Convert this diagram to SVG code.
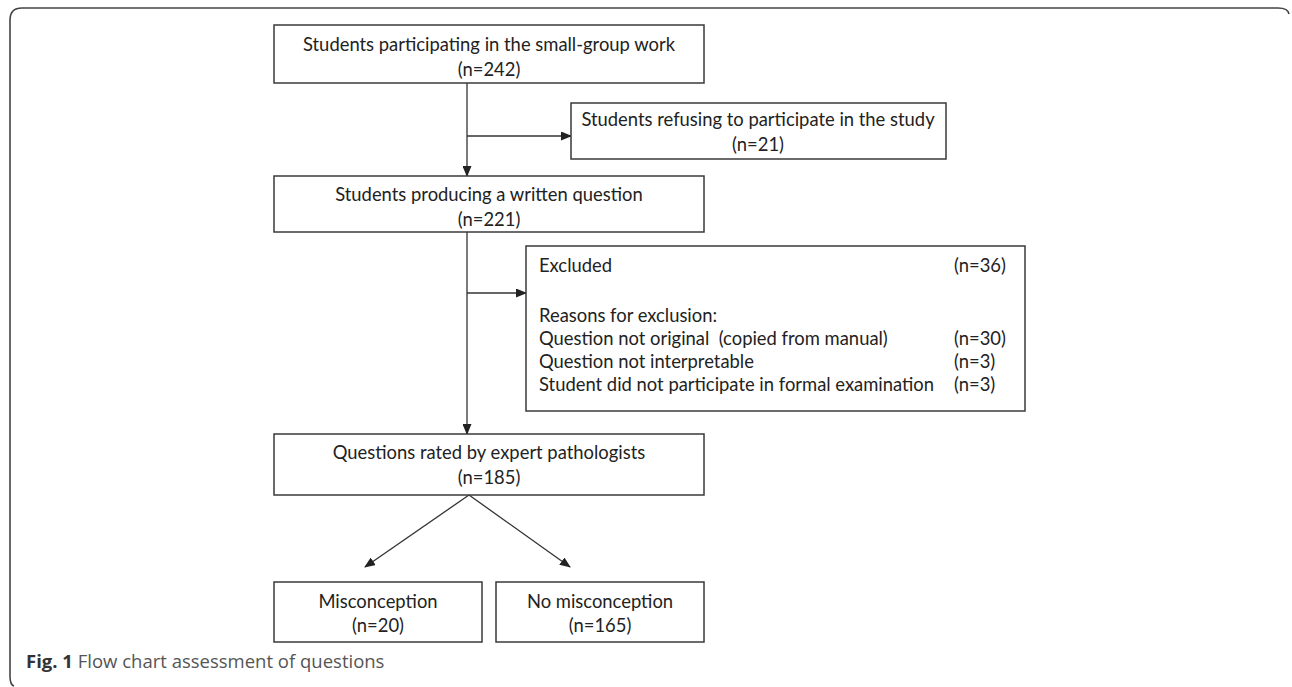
<svg xmlns="http://www.w3.org/2000/svg" width="1292" height="687" viewBox="0 0 1292 687">
<style>
.box{fill:#fff;stroke:#3a3a3a;stroke-width:1.5}
.t{font-family:Lato,"Open Sans","Liberation Sans",sans-serif;font-size:18.4px;fill:#222}
.c{text-anchor:middle}
.ln{stroke:#333;stroke-width:1.3;fill:none}
.cap{font-family:"Open Sans","Liberation Sans",sans-serif;font-size:18.5px;fill:#555}
</style>
<defs>
<marker id="ah" markerWidth="11" markerHeight="9" refX="10" refY="4.5" orient="auto" markerUnits="userSpaceOnUse">
<path d="M0,0 L11,4.5 L0,9 Z" fill="#222"/>
</marker>
</defs>
<path d="M10,676 L10,20 Q10,8 22,8 L1278,8 Q1288,8 1289,14" fill="none" stroke="#444" stroke-width="1.6"/>
<path d="M10,676 Q10,685 14,686" fill="none" stroke="#444" stroke-width="1.6"/>
<g id="connectors">
<line class="ln" x1="467" y1="83" x2="467" y2="176" marker-end="url(#ah)"/>
<line class="ln" x1="467" y1="136" x2="571" y2="136" marker-end="url(#ah)"/>
<line class="ln" x1="467" y1="232" x2="467" y2="434" marker-end="url(#ah)"/>
<line class="ln" x1="467" y1="293" x2="526" y2="293" marker-end="url(#ah)"/>
<line class="ln" x1="469" y1="495" x2="365" y2="567" marker-end="url(#ah)"/>
<line class="ln" x1="469" y1="495" x2="570" y2="567" marker-end="url(#ah)"/>
</g>
<g id="n1">
<rect class="box" x="274" y="25" width="430" height="58"/>
<text class="t c" x="489" y="51">Students participating in the small-group work</text>
<text class="t c" x="489" y="76">(n=242)</text>
</g>
<g id="n2">
<rect class="box" x="571" y="103" width="375" height="56"/>
<text class="t c" x="758" y="126">Students refusing to participate in the study</text>
<text class="t c" x="758" y="151">(n=21)</text>
</g>
<g id="n3">
<rect class="box" x="274" y="176" width="430" height="56"/>
<text class="t c" x="489" y="201">Students producing a written question</text>
<text class="t c" x="489" y="226">(n=221)</text>
</g>
<g id="n4">
<rect class="box" x="526" y="246" width="499" height="165"/>
<text class="t" x="539" y="272">Excluded</text>
<text class="t" x="954" y="272">(n=36)</text>
<text class="t" x="539" y="322">Reasons for exclusion:</text>
<text class="t" x="539" y="345" xml:space="preserve">Question not original  (copied from manual)</text>
<text class="t" x="954" y="345">(n=30)</text>
<text class="t" x="539" y="368">Question not interpretable</text>
<text class="t" x="954" y="368">(n=3)</text>
<text class="t" x="539" y="391">Student did not participate in formal examination</text>
<text class="t" x="954" y="391">(n=3)</text>
</g>
<g id="n5">
<rect class="box" x="274" y="434" width="430" height="61"/>
<text class="t c" x="489" y="459">Questions rated by expert pathologists</text>
<text class="t c" x="489" y="484">(n=185)</text>
</g>
<g id="n6">
<rect class="box" x="274" y="582" width="208" height="60"/>
<text class="t c" x="378" y="608">Misconception</text>
<text class="t c" x="378" y="632">(n=20)</text>
</g>
<g id="n7">
<rect class="box" x="496" y="582" width="208" height="60"/>
<text class="t c" x="600" y="608">No misconception</text>
<text class="t c" x="600" y="632">(n=165)</text>
</g>
<text class="cap" x="26" y="668"><tspan font-weight="bold" fill="#333">Fig. 1</tspan> Flow chart assessment of questions</text>
</svg>
